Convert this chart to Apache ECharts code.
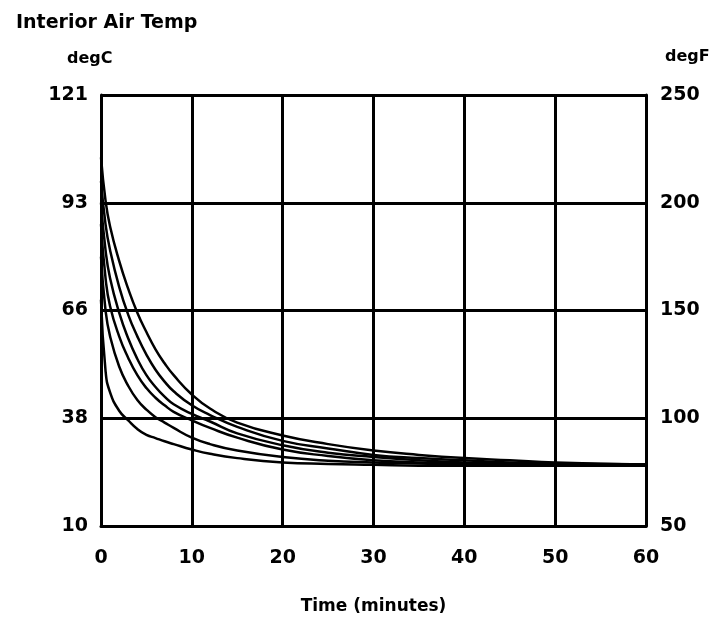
<!DOCTYPE html>
<html>
<head>
<meta charset="utf-8">
<script src="https://cdn.jsdelivr.net/npm/echarts@6/dist/echarts.min.js"></script>
<style>html,body{margin:0;padding:0;background:#fff;}#c{width:711px;height:621px;}</style>
</head>
<body>
<div id="c"></div>
<script>
// Time (minutes)
const times = [0, 0.5, 1, 2, 3, 4, 5, 6, 7, 8, 10, 12, 15, 20, 25, 30, 35, 40, 45, 50, 60];
// Interior air temperature, degF (six runs)
const run1 = [221, 201, 189, 173, 160, 149, 140, 132, 125.5, 120, 111, 104.5, 98, 92, 88, 85, 83, 81.5, 80.5, 79.5, 78.5];
const run2 = [210, 190, 178, 161, 148, 138, 129.5, 122.5, 117, 112.5, 106, 101.5, 96, 89.5, 86, 83, 81.5, 80.5, 79.5, 79, 78.5];
const run3 = [200, 178, 165, 149, 137, 127.5, 120, 114.5, 110, 106.5, 102, 98.5, 93, 87.5, 84, 82, 80.5, 79.5, 79, 78.5, 78.5];
const run4 = [190, 165, 152, 138, 128, 120, 114, 109.5, 106, 103, 99, 95.5, 91, 85.5, 82.5, 80.5, 79.5, 79, 78.5, 78.5, 78];
const run5 = [175, 150, 138, 124, 115, 108.5, 104, 100.5, 98, 95.5, 91, 88, 85, 82, 80.3, 79.5, 79, 78.5, 78.5, 78, 78];
const run6 = [155, 122, 112, 103.5, 99, 95, 92.3, 90.8, 89.3, 88, 85.5, 83.5, 81.5, 79.5, 78.8, 78.4, 78, 78, 78, 78, 78];
// Tick labels
const xTicks = [0, 10, 20, 30, 40, 50, 60];
const fTicks = [50, 100, 150, 200, 250];
const cTicks = ['10', '38', '66', '93', '121'];

const runs = [run1, run2, run3, run4, run5, run6];
const font = '"DejaVu Sans", sans-serif';
const chart = echarts.init(document.getElementById('c'), null, {renderer: 'canvas'});
chart.setOption({
  animation: false,
  backgroundColor: '#fff',
  title: [
    {text: 'Interior Air Temp', left: 11, top: 9, textStyle: {fontFamily: font, fontSize: 19, fontWeight: 'bold', color: '#000'}},
    {text: 'degC', left: 62, top: 46, textStyle: {fontFamily: font, fontSize: 16, fontWeight: 'bold', color: '#000'}},
    {text: 'degF', left: 660, top: 44, textStyle: {fontFamily: font, fontSize: 16, fontWeight: 'bold', color: '#000'}}
  ],
  grid: {left: 101, right: 65, top: 95, bottom: 95, containLabel: false},
  xAxis: {
    type: 'value', min: 0, max: 60, interval: 10,
    name: 'Time (minutes)', nameLocation: 'middle', nameGap: 72,
    nameTextStyle: {fontFamily: font, fontSize: 17, fontWeight: 'bold', color: '#000'},
    axisLine: {show: true, lineStyle: {color: '#000', width: 3}},
    axisTick: {show: false},
    axisLabel: {fontFamily: font, fontSize: 19, fontWeight: 'bold', color: '#000', margin: 23,
      formatter: v => xTicks.includes(v) ? String(v) : ''},
    splitLine: {show: true, lineStyle: {color: '#000', width: 3}}
  },
  yAxis: [
    {
      type: 'value', min: 50, max: 250, interval: 50, position: 'left',
      axisLine: {show: true, lineStyle: {color: '#000', width: 3}},
      axisTick: {show: false},
      axisLabel: {fontFamily: font, fontSize: 19, fontWeight: 'bold', color: '#000', margin: 13,
        formatter: v => { const i = fTicks.indexOf(v); return i >= 0 ? cTicks[i] : ''; }},
      splitLine: {show: true, lineStyle: {color: '#000', width: 3}}
    },
    {
      type: 'value', min: 50, max: 250, interval: 50, position: 'right',
      axisLine: {show: true, lineStyle: {color: '#000', width: 3}},
      axisTick: {show: false},
      axisLabel: {fontFamily: font, fontSize: 19, fontWeight: 'bold', color: '#000', margin: 14},
      splitLine: {show: false}
    }
  ],
  series: runs.map((r, k) => ({
    type: 'line', name: 'run' + (k + 1), yAxisIndex: 0,
    data: times.map((t, i) => [t, r[i]]),
    smooth: 0.5, showSymbol: false,
    lineStyle: {color: '#000', width: 2.5}
  }))
});
</script>
</body>
</html>
